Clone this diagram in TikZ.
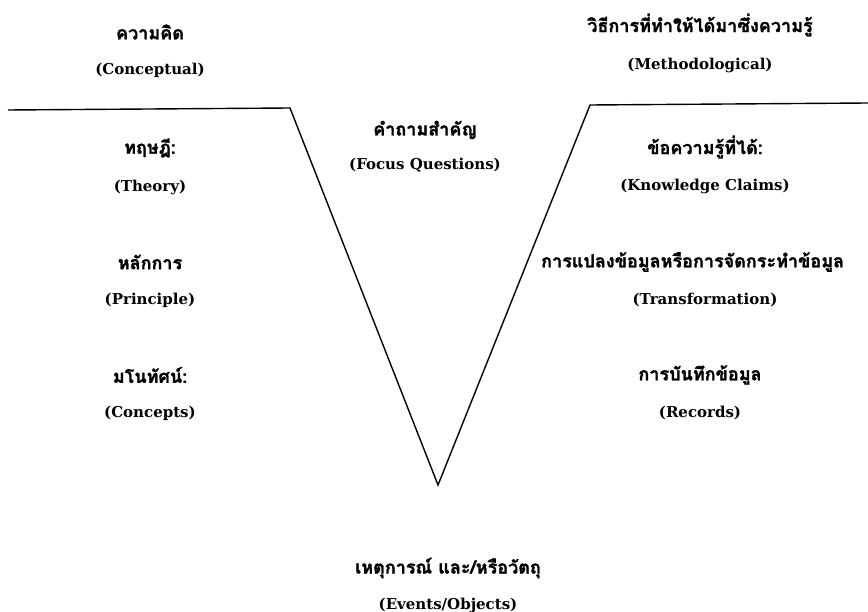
\documentclass[tikz,border=0pt]{standalone}
\usepackage{fontspec}
\setmainfont{DejaVu Serif}
\newfontfamily\thaifont[Script=Thai,BoldFeatures={FakeBold=1.5}]{Loma}

\begin{document}
\begin{tikzpicture}[x=1pt,y=-1pt]

\tikzset{
  vee line/.style={
    line width=1.4pt,
    line join=miter,
  },
  thai label/.style={
    inner sep=1pt,
    font=\thaifont\bfseries\fontsize{18}{21}\selectfont,
  },
  eng label/.style={
    inner sep=1pt,
    font=\bfseries\fontsize{15}{18}\selectfont,
  }
}

\useasboundingbox (0,0) rectangle (868,612);

% The V outline
\coordinate (lend) at (8,110);
\coordinate (lcorner) at (290,108);
\coordinate (vertex) at (438,485);
\coordinate (rcorner) at (590,105);
\coordinate (rend) at (868,103);
\draw[vee line] (lend) -- (lcorner) -- (vertex) -- (rcorner) -- (rend);

% Left side (conceptual)
\node[thai label] (conc th) at (150,32) {ความคิด};
\node[eng label] (conc en) at (150,70) {(Conceptual)};
\node[thai label] (theory th) at (150,148) {ทฤษฎี:};
\node[eng label] (theory en) at (150,187) {(Theory)};
\node[thai label] (princ th) at (150,262) {หลักการ};
\node[eng label] (princ en) at (150,300) {(Principle)};
\node[thai label] (concepts th) at (150,375) {มโนทัศน์:};
\node[eng label] (concepts en) at (150,413) {(Concepts)};

% Middle
\node[thai label] (focus th) at (425,130) {คำถามสำคัญ};
\node[eng label] (focus en) at (425,165) {(Focus Questions)};
\node[thai label] (event th) at (448,568) {เหตุการณ์ และ/หรือวัตถุ};
\node[eng label] (event en) at (448,605) {(Events/Objects)};

% Right side (methodological)
\node[thai label] (meth th) at (700,25) {วิธีการที่ทำให้ได้มาซึ่งความรู้};
\node[eng label] (meth en) at (700,65) {(Methodological)};
\node[thai label] (claims th) at (705,147) {ข้อความรู้ที่ได้:};
\node[eng label] (claims en) at (705,186) {(Knowledge Claims)};
\node[thai label, anchor=west] (trans th) at (540,262) {การแปลงข้อมูลหรือการจัดกระทำข้อมูล};
\node[eng label] (trans en) at (705,300) {(Transformation)};
\node[thai label] (rec th) at (700,375) {การบันทึกข้อมูล};
\node[eng label] (rec en) at (700,413) {(Records)};

\end{tikzpicture}
\end{document}
